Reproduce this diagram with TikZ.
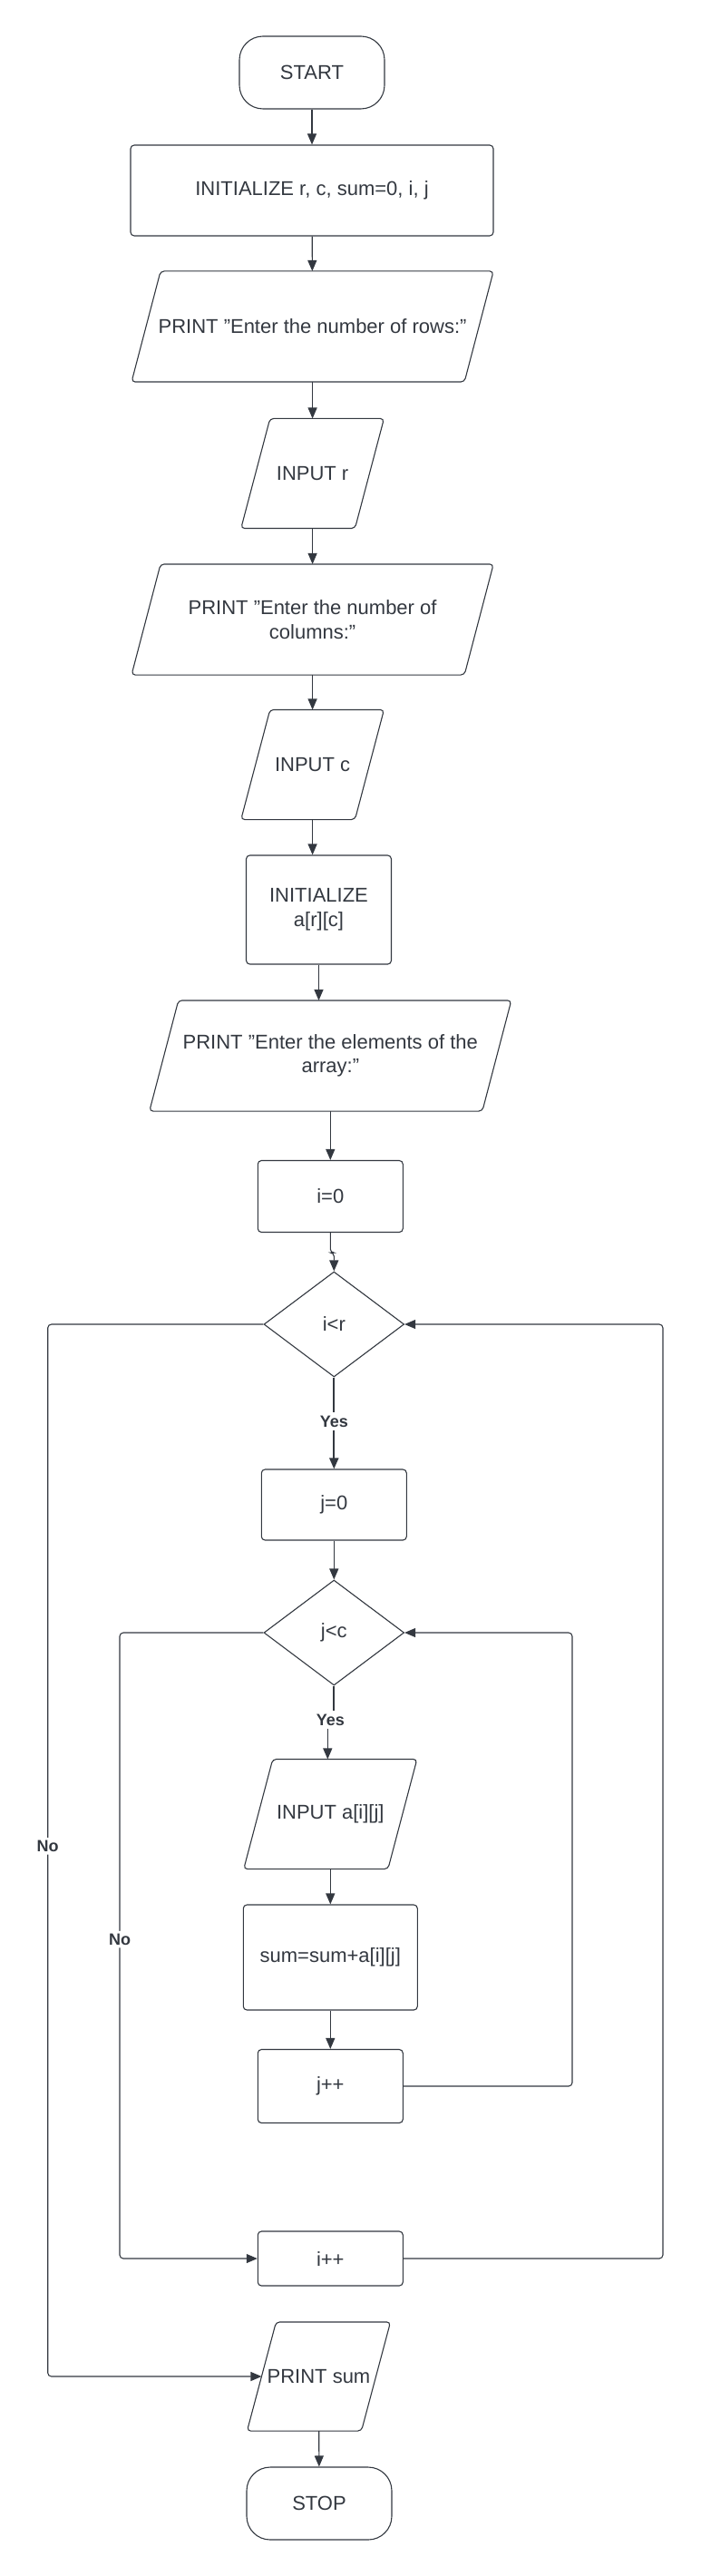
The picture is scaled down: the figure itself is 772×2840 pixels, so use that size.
\documentclass[tikz,border=0pt]{standalone}
\usepackage{fontspec}
\setmainfont{Liberation Sans}
\usetikzlibrary{shapes.geometric,arrows.meta}
\definecolor{ink}{HTML}{333840}
\begin{document}
\begin{tikzpicture}[x=0.5pt,y=-0.5pt,
    base/.style={draw=ink,line width=0.55pt,text=ink,inner sep=0pt,align=center,
        font=\fontsize{11}{13.3}\selectfont},
    terminal/.style={base,rectangle,rounded corners=13pt,minimum width=80pt,minimum height=40pt},
    process/.style={base,rectangle,rounded corners=2pt},
    io/.style={base,rectangle,draw=none},
    iobox/.style={draw=ink,line width=0.55pt,rounded corners=2pt},
    decision/.style={base,diamond,minimum width=77.3pt,minimum height=58pt},
    flow/.style={draw=ink,line width=0.55pt,rounded corners=2pt,-{Triangle[length=6pt,width=5pt]}},
    yesline/.style={draw=ink,line width=1pt},
    lbl/.style={fill=white,text=ink,inner sep=1.5pt,font=\bfseries\fontsize{9}{10}\selectfont}]
\useasboundingbox (0,0) rectangle (772,2840);

% main column
\node[terminal] (start) at (344,80) {START};
\node[process,minimum width=200pt,minimum height=50pt] (init) at (344,210) {INITIALIZE r, c, sum=0, i, j};
\node[io,minimum width=199pt,minimum height=60.5pt] (prows) at (344.6,360) {PRINT "Enter the number of rows:"};
\node[io,minimum width=78.3pt,minimum height=60pt] (inr) at (344.6,522) {INPUT r};
\node[io,minimum width=199pt,minimum height=60.5pt] (pcols) at (344.6,683) {PRINT "Enter the number of\\columns:"};
\node[io,minimum width=78.3pt,minimum height=60pt] (inc) at (344.6,843) {INPUT c};
\node[process,minimum width=80pt,minimum height=60pt] (inita) at (351.5,1003) {INITIALIZE\\a[r][c]};
\node[io,minimum width=199pt,minimum height=60.5pt] (pelem) at (364.3,1164) {PRINT "Enter the elements of the\\array:"};
\node[process,minimum width=80pt,minimum height=39.5pt] (i0) at (364.3,1319) {i=0};
\node[decision] (ir) at (368.3,1460) {i<r};
\node[lbl] (yesa) at (368.3,1567) {Yes};
\node[process,minimum width=80pt,minimum height=39pt] (j0) at (368.3,1659) {j=0};
\node[decision] (jc) at (368.3,1800) {j<c};
\node[lbl] (yesb) at (364.3,1896) {Yes};
\node[io,minimum width=95pt,minimum height=60pt] (inaij) at (364.3,2000) {INPUT a[i][j]};
\node[process,minimum width=96pt,minimum height=58pt] (sum) at (364.3,2158) {sum=sum+a[i][j]};
\node[process,minimum width=80pt,minimum height=40.5pt] (jpp) at (364.3,2300) {j++};
\node[process,minimum width=80pt,minimum height=30pt] (ipp) at (364.3,2490) {i++};
\node[io,minimum width=78.5pt,minimum height=59.5pt] (psum) at (351.5,2620) {PRINT sum};
\node[terminal] (stop) at (352,2760) {STOP};

% slanted input/output outlines
\foreach \n in {prows,inr,pcols,inc,pelem,inaij,psum}
  \draw[iobox] ([xshift=16pt]\n.north west) -- (\n.north east)
    -- ([xshift=-16pt]\n.south east) -- (\n.south west) -- cycle;

% loop corners
\coordinate (jret) at (631,2300);
\coordinate (jno) at (132,1800);
\coordinate (iret) at (731,2490);
\coordinate (ino) at (52.7,1460);

\draw[flow] (start) -- (init);
\draw[flow] (init) -- (prows);
\draw[flow] (prows) -- (inr);
\draw[flow] (inr) -- (pcols);
\draw[flow] (pcols) -- (inc);
\draw[flow] (inc.south) -- (inc.south |- inita.north);
\draw[flow] (inita.south) -- (inita.south |- pelem.north);
\draw[flow] (pelem) -- (i0);
\draw[flow] (i0.south) -- ++(0,22) -| (ir.north);
\draw[yesline] (ir.south) -- (yesa.north);
\draw[yesline,-{Triangle[length=6pt,width=5pt]}] (yesa.south) -- (j0.north);
\draw[flow] (j0) -- (jc);
\draw[yesline] (jc.south) -- (jc.south |- yesb.north);
\draw[flow] ([xshift=-1.5pt]yesb.south) -- ([xshift=-1.5pt]yesb.south |- inaij.north);
\draw[flow] (inaij) -- (sum);
\draw[flow] (sum) -- (jpp);
\draw[flow] (jpp.east) -- (jret) |- (jc.east);
\draw[flow] (jc.west) -- (jno) |- node[lbl,pos=0.245] {No} (ipp.west);
\draw[flow] (ipp.east) -- (iret) |- (ir.east);
\draw[flow] (ir.west) -- (ino) |- node[lbl,pos=0.248] {No} ([xshift=8pt]psum.west);
\draw[flow] (psum) -- (stop);
\end{tikzpicture}
\end{document}
